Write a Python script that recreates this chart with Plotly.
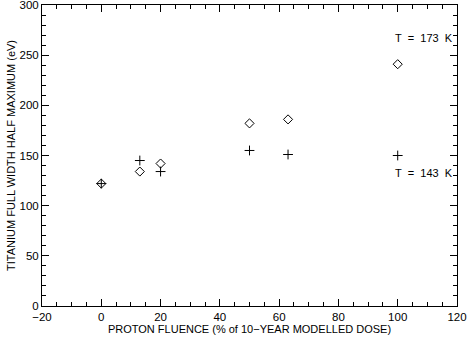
import plotly.graph_objects as go

fluence = [0, 13, 20, 50, 63, 100]
fwhm_173 = [122, 134, 142, 182, 186, 241]
fluence_143 = [0, 13, 20, 50, 63, 100]
fwhm_143 = [122, 145, 134, 155, 151, 150]
labels = ["T\u00a0\u00a0=\u00a0\u00a0173\u00a0\u00a0K", "T\u00a0\u00a0=\u00a0\u00a0143\u00a0\u00a0K"]
label_x = [109, 109]
label_y = [267, 133]

FONT = "Liberation Sans, Arial"

fig = go.Figure()
fig.add_trace(go.Scatter(x=fluence, y=fwhm_173, mode="markers",
                         marker=dict(symbol="diamond-open", size=7, color="black",
                                     line=dict(width=1, color="black")),
                         showlegend=False, hoverinfo="skip"))
fig.add_trace(go.Scatter(x=fluence_143, y=fwhm_143, mode="markers",
                         marker=dict(symbol="cross-thin-open", size=7, color="black",
                                     line=dict(width=1, color="black")),
                         showlegend=False, hoverinfo="skip"))
for t, xx, yy in zip(labels, label_x, label_y):
    fig.add_annotation(x=xx, y=yy, text=t, showarrow=False,
                       font=dict(size=11, color="black", family=FONT))

axis_common = dict(showgrid=False, zeroline=False, showline=True, linecolor="black",
                   linewidth=1, mirror="ticks", ticks="inside", tickcolor="black",
                   ticklen=7, tickwidth=1, automargin=False, ticklabeloverflow="allow",
                   tickfont=dict(size=11.5, color="black", family=FONT))

fig.update_xaxes(range=[-20, 120], dtick=20, tick0=0,
                 minor=dict(ticks="inside", dtick=5, ticklen=4, tickcolor="black"),
                 title=dict(text="PROTON FLUENCE (% of 10\u2212YEAR MODELLED DOSE)",
                            font=dict(size=11, color="black", family=FONT),
                            standoff=0),
                 **axis_common)
fig.update_yaxes(range=[0, 300], dtick=50, tick0=0,
                 minor=dict(ticks="inside", dtick=10, ticklen=4, tickcolor="black"),
                 title=dict(text="TITANIUM FULL WIDTH HALF MAXIMUM (eV)",
                            font=dict(size=11, color="black", family=FONT),
                            standoff=1),
                 **axis_common)

fig.update_layout(width=468, height=340, plot_bgcolor="white", paper_bgcolor="white",
                  margin=dict(l=42, r=11, t=5, b=34))
fig.write_html("out.html", config={"displayModeBar": False},
               post_script="document.body.style.margin='0';")
